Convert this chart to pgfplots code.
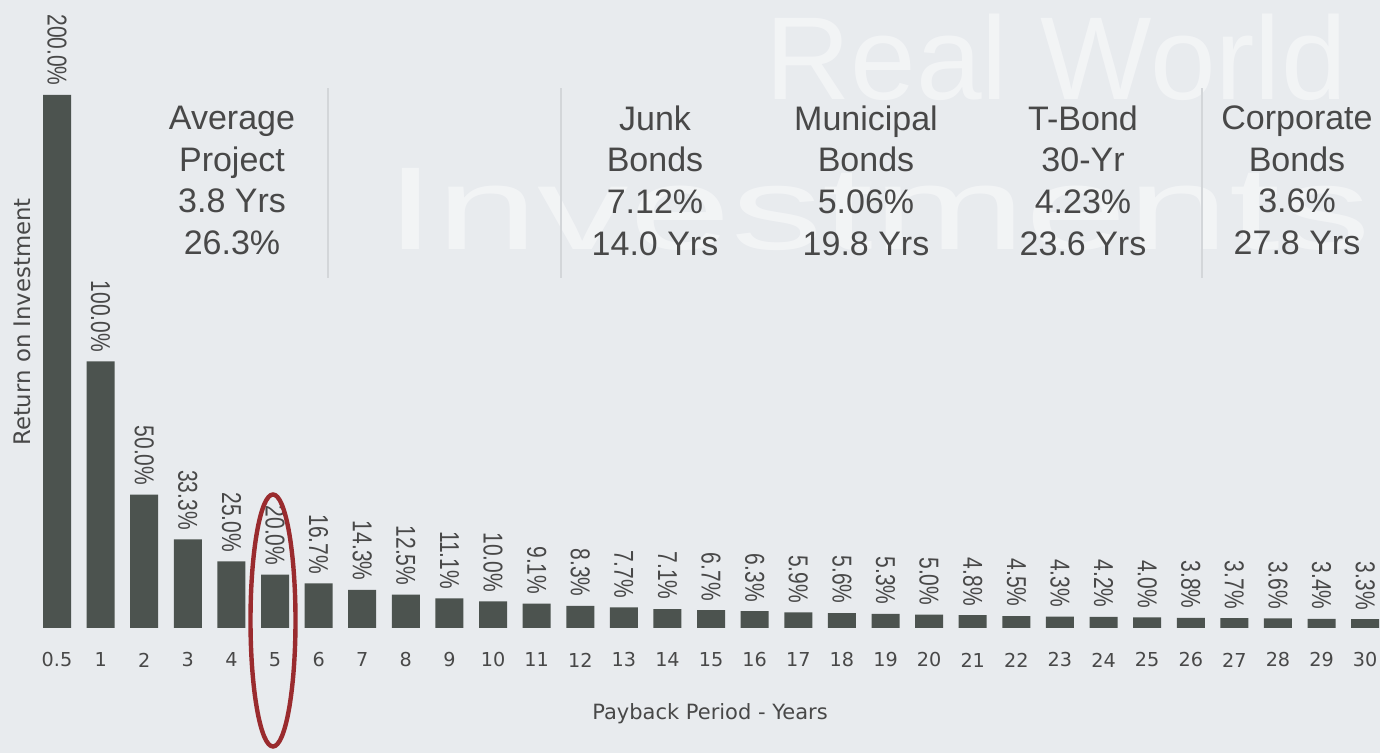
\documentclass[border=0pt]{standalone}
\usepackage{pgfplots}
\pgfplotsset{compat=1.18}
\usepackage{fontspec}
\setmainfont{Liberation Sans}
\newfontfamily\dejavu{DejaVu Sans}
\definecolor{bg}{HTML}{E8EBEE}
\definecolor{barc}{HTML}{4C534F}
\definecolor{txt}{HTML}{484848}
\definecolor{sep}{HTML}{D3D6D9}
\definecolor{ell}{HTML}{9A2B2E}
\pgfplotstableread{
x y
0 200
1 100
2 50
3 33.3
4 25
5 20
6 16.7
7 14.3
8 12.5
9 11.1
10 10
11 9.1
12 8.3
13 7.7
14 7.1
15 6.7
16 6.3
17 5.9
18 5.6
19 5.3
20 5.0
21 4.8
22 4.5
23 4.3
24 4.2
25 4.0
26 3.8
27 3.7
28 3.6
29 3.4
30 3.3
}\roidata
\begin{document}
\begin{tikzpicture}
\useasboundingbox (0,0) rectangle (690pt,376.5pt);
\fill[bg] (0,0) rectangle (690pt,376.5pt);
\begin{scope}
\clip (0,0) rectangle (690pt,376.5pt);
\node[anchor=base west, text=white, opacity=0.45, font=\fontsize{59}{60}\selectfont, inner sep=0pt] at (382.5pt,326.5pt) {Real World};
\node[anchor=base west, text=white, opacity=0.45, font=\fontsize{59}{60}\selectfont, inner sep=0pt] at (192.5pt,251.5pt) {\scalebox{1.55}[1]{Investments}};
\end{scope}
% separators
\draw[sep, line width=0.8pt] (164pt,237.5pt) -- (164pt,332.5pt);
\draw[sep, line width=0.8pt] (280.5pt,237.5pt) -- (280.5pt,332.5pt);
\draw[sep, line width=0.8pt] (601pt,237.5pt) -- (601pt,332.5pt);
\begin{axis}[
  at={(17.6pt,62.5pt)}, anchor=south west,
  scale only axis, width=672.4pt, height=314pt,
  xmin=-0.5, xmax=30.34, ymin=0, ymax=235.65,
  axis line style={draw=none},
  ytick=\empty,
  xtick=data,
  xticklabels={0.5,1,2,3,4,5,6,7,8,9,10,11,12,13,14,15,16,17,18,19,20,21,22,23,24,25,26,27,28,29,30},
  major tick length=0pt,
  xticklabel style={font=\dejavu\fontsize{9.6}{10}\selectfont, text=txt, anchor=center, yshift=-16pt},
  clip=false,
  ybar, bar width=14pt,
  nodes near coords={\scalebox{1}[1.3]{\pgfmathprintnumber[fixed,fixed zerofill,precision=1,assume math mode=true]{\pgfplotspointmeta}\%}},
  every node near coord/.append style={rotate=-90, anchor=east, font=\fontsize{10.5}{11}\selectfont, text=txt, inner xsep=4.5pt, inner ysep=0pt},
]
\addplot[fill=barc, draw=none] table[x=x, y=y] {\roidata};
\end{axis}
% text blocks
\begin{scope}[every node/.style={align=center, font=\fontsize{17}{20.8}\selectfont, text=txt}]
\node at (116pt,286.25pt) {Average\\Project\\3.8 Yrs\\26.3\%};
\node at (327.5pt,286.25pt) {Junk\\Bonds\\7.12\%\\14.0 Yrs};
\node at (433pt,286.25pt) {Municipal\\Bonds\\5.06\%\\19.8 Yrs};
\node at (541.5pt,286.25pt) {T-Bond\\30-Yr\\4.23\%\\23.6 Yrs};
\node at (648.5pt,286.25pt) {Corporate\\Bonds\\3.6\%\\27.8 Yrs};
\end{scope}
% axis titles
\node[font=\dejavu\fontsize{10.5}{11}\selectfont, text=txt] at (355pt,19.5pt) {Payback Period - Years};
\node[rotate=90, font=\dejavu\fontsize{11.4}{12}\selectfont, text=txt] at (11pt,215.5pt) {Return on Investment};
% highlight ellipse
\draw[ell, line width=2.2pt] (136.5pt,66.25pt) ellipse [x radius=11.25pt, y radius=63pt];
\end{tikzpicture}
\end{document}
